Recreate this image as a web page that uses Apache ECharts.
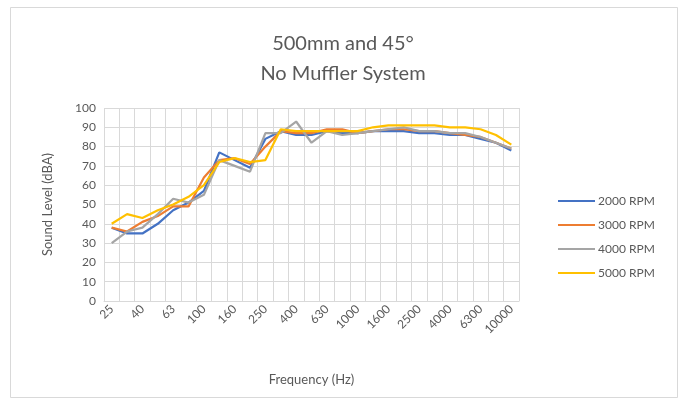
<!DOCTYPE html>
<html>
<head>
<meta charset="utf-8">
<script src="https://cdn.jsdelivr.net/npm/echarts@6/dist/echarts.min.js"></script>
<style>
html,body{margin:0;padding:0;background:#fff;}
#c{width:686px;height:402px;}
</style>
</head>
<body>
<div id="c"></div>
<script>
var categories = ['25','31.5','40','50','63','80','100','125','160','200','250','315','400','500','630','800','1000','1250','1600','2000','2500','3150','4000','5000','6300','8000','10000'];
var rpm2000 = [38,35,35,40,47,51,57,77,73,69,84,88,86,86,88,87,87,88,88,88,87,87,86,86,84,82,78];
var rpm3000 = [38,36,41,44,49,49,64,73,74,71,80,88,87,87,89,89,87,88,89,89,88,88,87,86,85,82,79];
var rpm4000 = [30,36,38,45,53,51,55,73,70,67,87,87,93,82,88,86,87,88,89,90,88,88,87,87,85,82,79];
var rpm5000 = [40,45,43,47,50,54,60,72,74,72,73,89,88,88,88,88,88,90,91,91,91,91,90,90,89,86,81];
var seriesNames = ['2000 RPM','3000 RPM','4000 RPM','5000 RPM'];
var colors = ['#4472C4','#ED7D31','#A5A5A5','#FFC000'];
var font = 'Lato, "Open Sans", sans-serif';
var txt = '#595959';
var chart = echarts.init(document.getElementById('c'));
function mk(name, data, i){
  return {name:name,type:'line',data:data,symbol:'none',smooth:false,
    lineStyle:{width:2.2,color:colors[i]},itemStyle:{color:colors[i]}};
}
chart.setOption({
  animation:false,
  backgroundColor:'#fff',
  graphic:[{type:'rect',shape:{x:10.5,y:7.5,width:667,height:390},style:{fill:'none',stroke:'#d9d9d9',lineWidth:1}}],
  title:{text:'500mm and 45°\nNo Muffler System',left:'center',top:24,
    textStyle:{fontFamily:font,fontSize:20,fontWeight:'normal',color:txt,lineHeight:30}},
  legend:{orient:'vertical',left:553,top:190,itemWidth:37,itemHeight:2,itemGap:12,icon:'rect',
    textStyle:{fontFamily:font,fontSize:12,color:txt,padding:[0,0,0,-2]},
    data:seriesNames},
  grid:{left:104,right:167,top:108,bottom:101},
  xAxis:{type:'category',data:categories,boundaryGap:true,
    name:'Frequency (Hz)',nameLocation:'middle',nameGap:72,
    nameTextStyle:{fontFamily:font,fontSize:13,color:txt},
    axisLine:{lineStyle:{color:'#d9d9d9'}},axisTick:{show:false},
    axisLabel:{interval:1,rotate:45,fontFamily:font,fontSize:12,color:txt,margin:6},
    splitLine:{show:true,interval:0,lineStyle:{color:'#d9d9d9'}}},
  yAxis:{type:'value',min:0,max:100,interval:10,
    name:'Sound Level (dBA)',nameLocation:'middle',nameGap:50,
    nameTextStyle:{fontFamily:font,fontSize:13,color:txt},
    axisLine:{show:false},axisTick:{show:false},
    axisLabel:{fontFamily:font,fontSize:12,color:txt,margin:8},
    splitLine:{lineStyle:{color:'#d9d9d9'}}},
  series:[mk(seriesNames[0],rpm2000,0),mk(seriesNames[1],rpm3000,1),mk(seriesNames[2],rpm4000,2),mk(seriesNames[3],rpm5000,3)]
});
</script>
</body>
</html>
